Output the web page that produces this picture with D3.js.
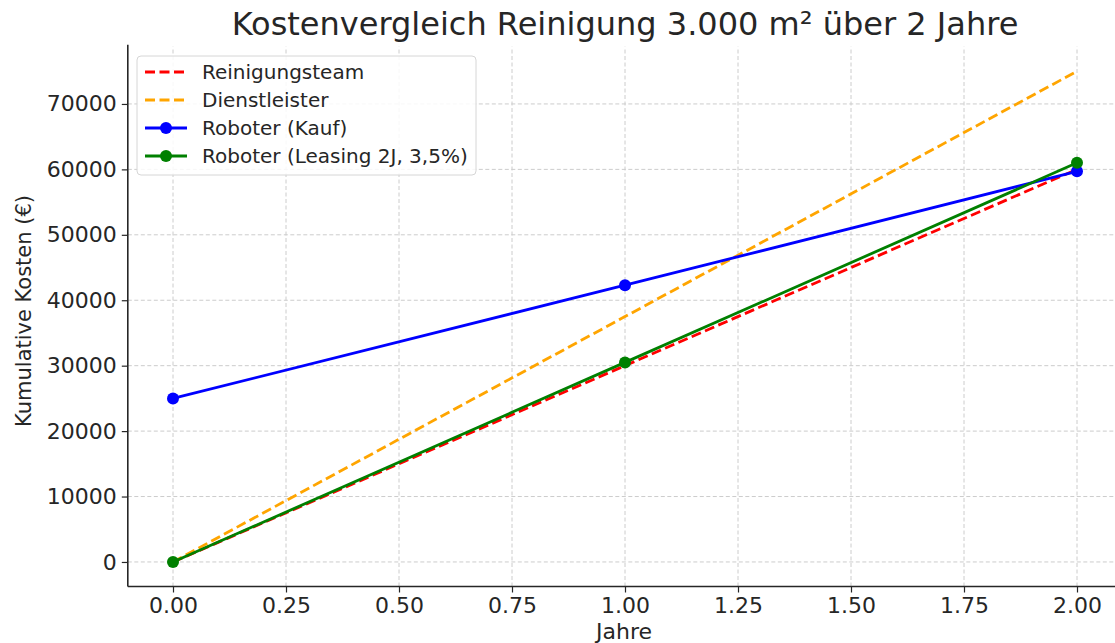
<!DOCTYPE html>
<html>
<head>
<meta charset="utf-8">
<script src="https://cdn.jsdelivr.net/npm/d3@7"></script>
<style>
  body { margin: 0; background: #fff; }
  svg, svg text { font-family: "DejaVu Sans", sans-serif; }
</style>
</head>
<body>
<div id="chart"></div>
<script>
const years = [0, 1, 2];
const reinigungsteam = [0, 30000, 60000];
const dienstleister = [0, 37500, 75000];
const roboterKauf = [25000, 42300, 59700];
const roboterLeasing = [0, 30500, 61000];
const xTicks = [0, 0.25, 0.5, 0.75, 1, 1.25, 1.5, 1.75, 2];
const yTicks = [0, 10000, 20000, 30000, 40000, 50000, 60000, 70000];

const series = [
  { name: "Reinigungsteam", values: reinigungsteam, color: "#ff0000", dashed: true, markers: false },
  { name: "Dienstleister", values: dienstleister, color: "#ffa500", dashed: true, markers: false },
  { name: "Roboter (Kauf)", values: roboterKauf, color: "#0000ff", dashed: false, markers: true },
  { name: "Roboter (Leasing 2J, 3,5%)", values: roboterLeasing, color: "#008000", dashed: false, markers: true }
];

const width = 1115, height = 643;
const textColor = "#262626";

const x = d3.scaleLinear().domain([-0.1, 2.1]).range([127.8, 1122.2]);
const y = d3.scaleLinear().domain([-3750, 78750]).range([586.5, 46.7]);

const svg = d3.select("#chart").append("svg")
  .attr("width", width)
  .attr("height", height);

// grid
const grid = svg.append("g").attr("class", "grid");
grid.selectAll(".gx").data(xTicks).enter().append("line")
  .attr("x1", d => x(d)).attr("x2", d => x(d))
  .attr("y1", y.range()[0]).attr("y2", y.range()[1])
  .attr("stroke", "#cccccc").attr("stroke-width", 1)
  .attr("stroke-dasharray", "4,2.5");
grid.selectAll(".gy").data(yTicks).enter().append("line")
  .attr("x1", x.range()[0]).attr("x2", width)
  .attr("y1", d => y(d)).attr("y2", d => y(d))
  .attr("stroke", "#cccccc").attr("stroke-width", 1)
  .attr("stroke-dasharray", "4,2.5");

// axes
const xAxis = d3.axisBottom(x).tickValues(xTicks).tickFormat(d3.format(".2f")).tickSizeOuter(0).tickSize(6).tickPadding(5);
const yAxis = d3.axisLeft(y).tickValues(yTicks).tickFormat(d => d).tickSizeOuter(0).tickSize(6).tickPadding(5);

const gx = svg.append("g")
  .attr("transform", "translate(0," + y.range()[0] + ")")
  .call(xAxis);
gx.select(".domain").attr("d", "M" + x.range()[0] + ",0H" + width);

const gy = svg.append("g")
  .attr("transform", "translate(" + x.range()[0] + ",0)")
  .call(yAxis);
gy.select(".domain").attr("d", "M0," + y.range()[0] + "V" + (y.range()[1] - 2));

[gx, gy].forEach(g => {
  g.attr("font-family", "DejaVu Sans").attr("font-size", 22);
  g.select(".domain").attr("stroke", textColor).attr("stroke-width", 1.6);
  g.selectAll(".tick line").attr("stroke", textColor).attr("stroke-width", 1.2);
  g.selectAll(".tick text").attr("fill", textColor);
});

// lines
const line = d3.line()
  .x((d, i) => x(years[i]))
  .y(d => y(d));

series.forEach(s => {
  svg.append("path")
    .datum(s.values)
    .attr("d", line)
    .attr("fill", "none")
    .attr("stroke", s.color)
    .attr("stroke-width", 2.8)
    .attr("stroke-dasharray", s.dashed ? "10,4.5" : null);
  if (s.markers) {
    svg.selectAll(null).data(s.values).enter().append("circle")
      .attr("cx", (d, i) => x(years[i]))
      .attr("cy", d => y(d))
      .attr("r", 6)
      .attr("fill", s.color);
  }
});

// title and labels
svg.append("text")
  .attr("x", 625).attr("y", 35)
  .attr("text-anchor", "middle")
  .attr("fill", textColor)
  .style("font-size", "32px")
  .text("Kostenvergleich Reinigung 3.000 m² über 2 Jahre");

svg.append("text")
  .attr("x", 624).attr("y", 639)
  .attr("text-anchor", "middle")
  .attr("fill", textColor)
  .style("font-size", "22px")
  .text("Jahre");

svg.append("text")
  .attr("transform", "translate(31,311) rotate(-90)")
  .attr("text-anchor", "middle")
  .attr("fill", textColor)
  .style("font-size", "21px")
  .text("Kumulative Kosten (€)");

// legend
const legend = svg.append("g").attr("transform", "translate(137,56)");
legend.append("rect")
  .attr("width", 339).attr("height", 119)
  .attr("rx", 4)
  .attr("fill", "#fff").attr("fill-opacity", 0.85)
  .attr("stroke", "#d6d6d6").attr("stroke-width", 1);

series.forEach((s, i) => {
  const ly = 16 + i * 28;
  legend.append("line")
    .attr("x1", 8).attr("x2", 50)
    .attr("y1", ly).attr("y2", ly)
    .attr("stroke", s.color).attr("stroke-width", 2.8)
    .attr("stroke-dasharray", s.dashed ? "10,4.5" : null);
  if (s.markers) {
    legend.append("circle").attr("cx", 29).attr("cy", ly).attr("r", 6).attr("fill", s.color);
  }
  legend.append("text")
    .attr("x", 65).attr("y", ly + 7)
    .attr("fill", textColor)
    .style("font-size", "20px")
    .text(s.name);
});
</script>
</body>
</html>
